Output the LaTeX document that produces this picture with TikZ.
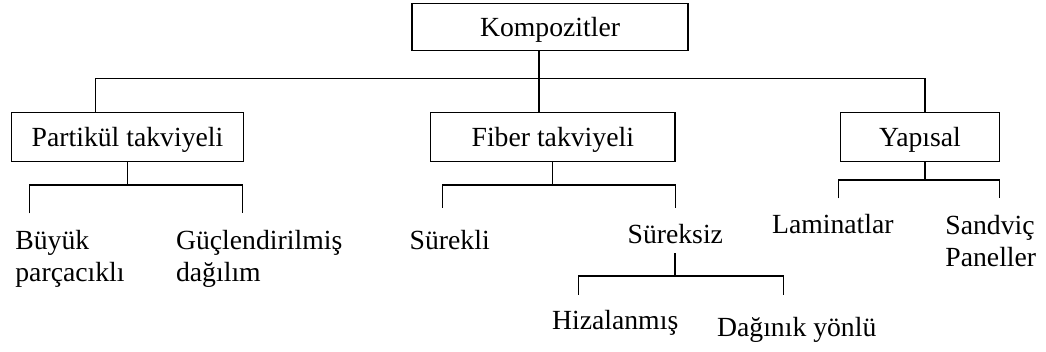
\documentclass[tikz,border=0pt]{standalone}
\usepackage{fontspec}
\setmainfont{Liberation Serif}
\usetikzlibrary{calc}

\tikzset{
	kutu/.style={draw, line width=0.6pt, minimum width=#1, minimum height=24.5pt,
		inner sep=0pt, text height=1.05em, text depth=0.1em},
	etiket/.style={anchor=base west, inner sep=0pt, align=left},
	dal/.style={line width=0.6pt}
}

\begin{document}
\begin{tikzpicture}[x=0.5pt, y=-0.5pt, font=\fontsize{13.85}{16.3}\selectfont]
	\useasboundingbox (0,0) rectangle (1046,352);
	
	% boxes
	\node[kutu=138pt, minimum height=23.6pt] (komp) at (550,27.1) {Kompozitler};
	\node[kutu=115.8pt] (part) at (127.5,137.2) {Partikül takviyeli};
	\node[kutu=122.2pt] (fiber) at (552.8,137.2) {Fiber takviyeli};
	\node[kutu=79.3pt] (yap) at (920,137.2) {Yapısal};
	
	% leaves (base = last line)
	\node[etiket] (buyuk) at (15,282) {Büyük\\parçacıklı};
	\node[etiket] (gucl) at (175.7,282) {Güçlendirilmiş\\dağılım};
	\node[etiket] (surekli) at (409.3,250) {Sürekli};
	\node[anchor=base, inner sep=0pt] (sureksiz) at (675.3,244) {Süreksiz};
	\node[etiket] (hiza) at (551.7,330) {Hizalanmış};
	\node[etiket] (dagin) at (716.7,336.7) {Dağınık yönlü};
	\node[etiket] (lamin) at (771.7,233.3) {Laminatlar};
	\node[etiket] (sandv) at (945,266.7) {Sandviç\\Paneller};
	
	% main branch
	\coordinate (k1) at (95.7,78.7);
	\coordinate (k2) at (539,78.7);
	\coordinate (k3) at (925,78.7);
	\draw[dal] (k2 |- komp.south) -- (k2 |- fiber.north);
	\draw[dal] (k1 |- part.north) -- (k1) -- (k3) -- (k3 |- yap.north);
	
	% partikul branch
	\def\pbar{185} % bar height
	\coordinate (p1) at (29.7,213.3);
	\coordinate (p2) at (242.7,213.3);
	\draw[dal] (part.south) -- (part.south |- 0,\pbar);
	\draw[dal] (p1) -- (p1 |- 0,\pbar) -- (p2 |- 0,\pbar) -- (p2);
	
	% fiber branch
	\coordinate (f1) at (442.3,208);
	\coordinate (f2) at (675.3,208);
	\draw[dal] (fiber.south) -- (fiber.south |- 0,\pbar);
	\draw[dal] (f1) -- (f1 |- 0,\pbar) -- (f2 |- 0,\pbar) -- (f2);
	
	% sureksiz branch
	\def\sbar{276}
	\coordinate (s0) at (675,253.3);
	\coordinate (s1) at (578.3,295);
	\coordinate (s2) at (783.3,295);
	\draw[dal] (s0) -- (s0 |- 0,\sbar);
	\draw[dal] (s1) -- (s1 |- 0,\sbar) -- (s2 |- 0,\sbar) -- (s2);
	
	% yapisal branch
	\def\ybar{180}
	\coordinate (y0) at (925,\ybar);
	\coordinate (y1) at (838.3,198.3);
	\coordinate (y2) at (999.3,198.3);
	\draw[dal] (y0 |- yap.south) -- (y0);
	\draw[dal] (y1) -- (y1 |- y0) -- (y2 |- y0) -- (y2);
\end{tikzpicture}
\end{document}
